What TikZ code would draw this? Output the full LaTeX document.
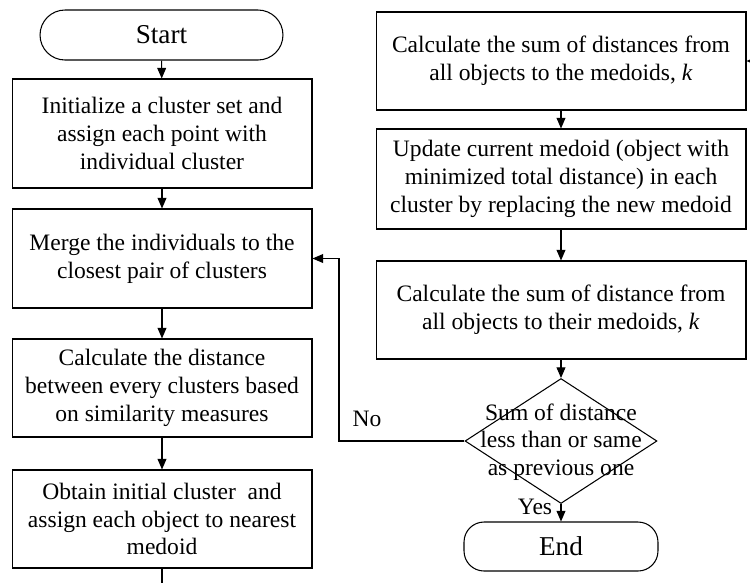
\documentclass[tikz,border=0pt]{standalone}
\usepackage{fontspec}
\setmainfont{Liberation Serif}
\usetikzlibrary{shapes.geometric,arrows.meta}

\begin{document}
\begin{tikzpicture}[x=0.02cm, y=0.02cm,
  font=\fontsize{13.4}{15.8}\selectfont,
  every path/.style={line width=0.6pt},
  box/.style={draw, rectangle, align=center, inner sep=0pt},
  term/.style={draw, rectangle, inner sep=0pt, font=\fontsize{15.5}{18}\selectfont},
  decision/.style={draw, diamond, inner sep=0pt, minimum width=3.84cm, minimum height=2.5cm},
  arr/.style={-{Triangle[length=6pt,width=5pt]}}]
\useasboundingbox (0,0) rectangle (750,-583);

% left column
\node[term, rounded corners=0.5cm, minimum width=4.86cm, minimum height=1cm] (start) at (161.5,-35) {Start};
\node[box, minimum width=6cm, minimum height=2.18cm] (init) at (162,-133.5)
  {Initialize a cluster set and\\assign each point with\\individual cluster};
\node[box, minimum width=6cm, minimum height=1.98cm] (merge) at (162,-258.5)
  {Merge the individuals to the\\closest pair of clusters};
\node[box, minimum width=6cm, minimum height=1.96cm] (dist) at (162,-388)
  {Calculate the distance\\between every clusters based\\on similarity measures};
\node[box, minimum width=6cm, minimum height=1.96cm] (obtain) at (162,-519)
  {Obtain initial cluster~ and\\assign each object to nearest\\medoid};
\coordinate (out) at (162,-583);

% right column
\coordinate (in) at (750,-61);
\node[box, minimum width=7.4cm, minimum height=1.96cm] (sum) at (561,-61)
  {Calculate the sum of distances from\\all objects to the medoids, \textit{k}};
\node[box, minimum width=7.4cm, minimum height=2cm] (update) at (561,-179)
  {Update current medoid (object with\\minimized total distance) in each\\cluster by replacing the new medoid};
\node[box, minimum width=7.4cm, minimum height=1.96cm] (sumnew) at (561,-310)
  {Calculate the sum of distance from\\all objects to their medoids, \textit{k}};
\node[decision] (check) at (561,-441) {};
\node[align=center, inner sep=0pt] (checktxt) at (561,-442)
  {Sum of distance\\less than or same\\as previous one};
\node[term, rounded corners=0.4cm, minimum width=3.88cm, minimum height=0.98cm] (end) at (561,-546.5) {End};
\coordinate (back) at (339,-258.5);

% connectors
\draw[arr] (start) -- (init);
\draw[arr] (init) -- (merge);
\draw[arr] (merge) -- (dist);
\draw[arr] (dist) -- (obtain);
\draw (obtain) -- (out);
\draw[arr] (in) -- (sum);
\draw[arr] (sum) -- (update);
\draw[arr] (update) -- (sumnew);
\draw[arr] (sumnew) -- (check);
\draw[arr] (check) -- (end);
\draw[arr] (check.west) -| (back) -- (merge);

\node (no) at (367,-419) {No};
\node (yes) at (535,-507) {Yes};
\end{tikzpicture}
\end{document}
